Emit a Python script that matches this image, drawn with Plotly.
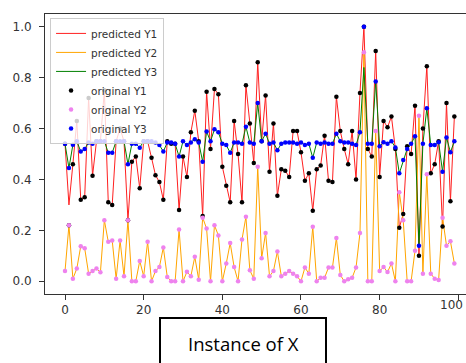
import plotly.graph_objects as go

x_idx = list(range(100))

orig_y1 = [0.54, 0.22, 0.46, 0.63, 0.32, 0.33, 0.72, 0.415, 0.55, 0.55,
           0.75, 0.31, 0.30, 0.55, 0.60, 0.55, 0.24, 0.47, 0.49, 0.365,
           0.55, 0.55, 0.485, 0.417, 0.39, 0.32, 0.55, 0.54, 0.54, 0.28,
           0.49, 0.41, 0.585, 0.67, 0.55, 0.256, 0.745, 0.52, 0.755, 0.735,
           0.45, 0.375, 0.31, 0.63, 0.50, 0.31, 0.77, 0.62, 0.465, 0.86,
           0.55, 0.73, 0.43, 0.62, 0.336, 0.44, 0.434, 0.41, 0.59, 0.59,
           0.507, 0.395, 0.424, 0.277, 0.44, 0.455, 0.572, 0.395, 0.39, 0.725,
           0.59, 0.52, 0.46, 0.59, 0.40, 0.74, 1.0, 0.52, 0.49, 0.905,
           0.41, 0.63, 0.605, 0.647, 0.52, 0.21, 0.264, 0.53, 0.50, 0.69,
           0.10, 0.60, 0.845, 0.424, 0.46, 0.55, 0.215, 0.70, 0.314, 0.647]

orig_y2 = [0.04, 0.22, 0.01, 0.05, 0.138, 0.13, 0.03, 0.04, 0.05, 0.035,
           0.24, 0.155, 0.16, 0.01, 0.16, 0.02, 0.24, 0.0, 0.0, 0.08,
           0.02, 0.155, 0.0, 0.04, 0.056, 0.133, 0.017, 0.0, 0.0, 0.203,
           0.0, 0.037, 0.02, 0.096, 0.006, 0.25, 0.207, 0.0, 0.22, 0.18,
           0.0, 0.07, 0.15, 0.056, 0.0, 0.164, 0.253, 0.043, 0.01, 0.45,
           0.09, 0.19, 0.02, 0.04, 0.117, 0.02, 0.03, 0.04, 0.03, 0.02,
           0.0, 0.054, 0.03, 0.214, 0.0, 0.014, 0.014, 0.054, 0.054, 0.17,
           0.025, 0.0, 0.008, 0.014, 0.054, 0.19, 0.9, 0.0, 0.0, 0.59,
           0.04, 0.056, 0.036, 0.07, 0.0, 0.35, 0.24, 0.0, 0.0, 0.12,
           0.65, 0.03, 0.42, 0.03, 0.01, 0.005, 0.25, 0.14, 0.157, 0.07]

orig_y3 = [0.54, 0.445, 0.536, 0.55, 0.51, 0.52, 0.545, 0.54, 0.55, 0.55,
           0.55, 0.505, 0.505, 0.55, 0.55, 0.55, 0.46, 0.54, 0.54, 0.525,
           0.55, 0.55, 0.55, 0.545, 0.535, 0.51, 0.545, 0.545, 0.54, 0.49,
           0.55, 0.535, 0.545, 0.558, 0.545, 0.47, 0.588, 0.55, 0.597, 0.585,
           0.54, 0.535, 0.505, 0.545, 0.545, 0.54, 0.607, 0.545, 0.54, 0.70,
           0.55, 0.58, 0.54, 0.545, 0.515, 0.54, 0.545, 0.545, 0.545, 0.54,
           0.545, 0.535, 0.54, 0.485, 0.545, 0.54, 0.545, 0.54, 0.54, 0.58,
           0.55, 0.545, 0.545, 0.54, 0.535, 0.585, 1.0, 0.54, 0.54, 0.785,
           0.53, 0.546, 0.54, 0.55, 0.526, 0.424, 0.476, 0.52, 0.54, 0.57,
           0.14, 0.54, 0.68, 0.535, 0.535, 0.546, 0.43, 0.565, 0.507, 0.55]

pred_y1 = list(orig_y1)
pred_y1[1] = 0.30
pred_y2 = list(orig_y2)
pred_y3 = list(orig_y3)
pred_y3[76] = 0.84

x_ticks = [0, 20, 40, 60, 80, 100]
x_tick_text = ["0", "20", "40", "60", "80", ""]
y_ticks = [0.0, 0.2, 0.4, 0.6, 0.8, 1.0]

fig = go.Figure()
line_series = [("predicted Y1", pred_y1, "#ff2020"),
               ("predicted Y2", pred_y2, "#ffa500"),
               ("predicted Y3", pred_y3, "#008000")]
for name, ys, col in line_series:
    fig.add_trace(go.Scatter(x=x_idx, y=ys, mode="lines", name=name,
                             line=dict(color=col, width=1)))
dot_series = [("original Y1", orig_y1, "black"),
              ("original Y2", orig_y2, "violet"),
              ("original Y3", orig_y3, "blue")]
for name, ys, col in dot_series:
    fig.add_trace(go.Scatter(x=x_idx, y=ys, mode="markers", name=name,
                             marker=dict(color=col, size=4.5, line=dict(width=0))))

axis_font = dict(family="DejaVu Sans", size=12, color="#333")
fig.update_layout(
    width=466, height=363,
    margin=dict(l=45, r=0, t=14, b=69),
    paper_bgcolor="white", plot_bgcolor="white",
    showlegend=True,
    legend=dict(x=0.012, y=0.986, xanchor="left", yanchor="top",
                bgcolor="rgba(255,255,255,0.8)", bordercolor="#cccccc",
                borderwidth=1, entrywidth=88, entrywidthmode="pixels",
                font=dict(family="DejaVu Sans", size=10.5, color="#333")),
    xaxis=dict(range=[-5.09, 101.96], tickvals=x_ticks, ticktext=x_tick_text,
               ticks="outside", ticklen=5, ticklabelstandoff=0,
               tickcolor="#333", showline=True, linecolor="#333", linewidth=1,
               mirror=True, showgrid=False, zeroline=False, tickfont=axis_font),
    yaxis=dict(range=[-0.05, 1.05], tickvals=y_ticks, tickformat=".1f",
               ticks="outside", ticklen=5, tickcolor="#333", showline=True,
               linecolor="#333", linewidth=1, showgrid=False, zeroline=False,
               ticklabelstandoff=5, tickfont=axis_font),
    shapes=[dict(type="rect", xref="paper", yref="paper",
                 x0=(160 - 45) / 421, x1=(326 - 45) / 421,
                 y0=(294 - 372) / 280, y1=(294 - 318) / 280,
                 line=dict(color="black", width=2), fillcolor="white")],
    annotations=[dict(text="Instance of X", xref="paper", yref="paper",
                      x=(243 - 45) / 421, y=(294 - 343) / 280,
                      xanchor="center", yanchor="middle", showarrow=False,
                      font=dict(family="Open Sans", size=18.5, color="black")),
                 dict(text="100", xref="paper", yref="paper", x=(465 - 45) / 421,
                      y=(294 - 296) / 280, xanchor="right", yanchor="top",
                      showarrow=False, font=axis_font)],
)

fig.write_html("out.html")
